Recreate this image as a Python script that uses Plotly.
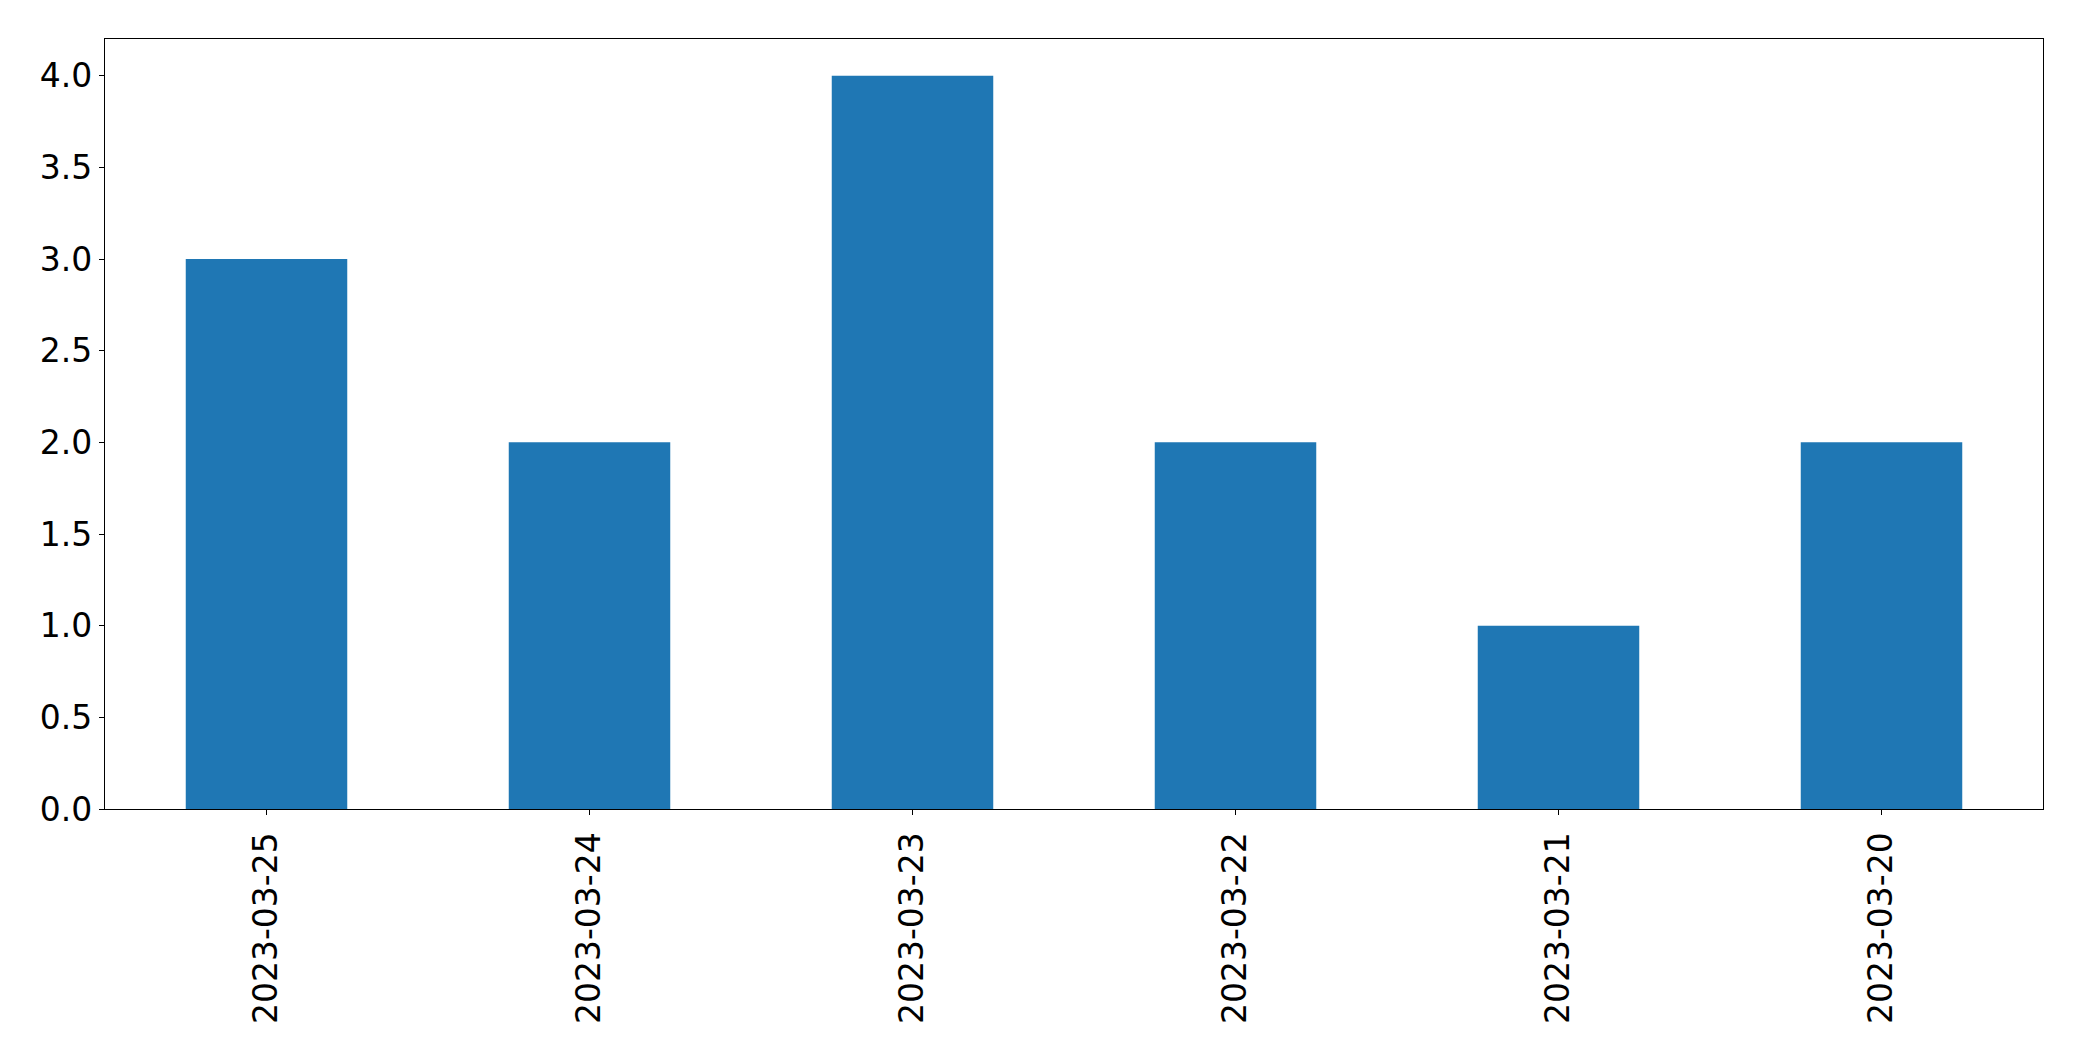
import plotly.graph_objects as go

dates = ["2023-03-25", "2023-03-24", "2023-03-23", "2023-03-22", "2023-03-21", "2023-03-20"]
counts = [3, 2, 4, 2, 1, 2]
y_ticks = [0.0, 0.5, 1.0, 1.5, 2.0, 2.5, 3.0, 3.5, 4.0]

fig = go.Figure(go.Bar(
    x=list(range(len(dates))), y=counts, width=0.5,
    marker=dict(color="#1f77b4", line=dict(width=0)),
))

font = dict(family="DejaVu Sans", size=33, color="black")
fig.update_layout(
    width=2082, height=1061,
    margin=dict(l=105, r=39, t=39, b=252),
    paper_bgcolor="white", plot_bgcolor="white",
    showlegend=False, font=font,
)
fig.update_xaxes(
    range=[-0.5, 5.5], tickmode="array", tickvals=list(range(len(dates))), ticktext=dates,
    tickangle=-90, showline=True, mirror=True, linecolor="black", linewidth=1.1,
    ticks="outside", ticklen=5, tickwidth=1.1, tickcolor="black",
    showgrid=False, zeroline=False, tickfont=font, ticklabelstandoff=4,
)
fig.update_yaxes(
    range=[0, 4.2], tickmode="array", tickvals=y_ticks, ticktext=[f"{v:.1f}" for v in y_ticks],
    showline=True, mirror=True, linecolor="black", linewidth=1.1,
    ticks="outside", ticklen=5, tickwidth=1.1, tickcolor="black",
    showgrid=False, zeroline=False, tickfont=font, ticklabelstandoff=0,
)
fig.write_html(
    "out.html",
    config={"displayModeBar": False},
    post_script="document.body.style.margin='0';document.body.style.overflow='hidden';",
)
